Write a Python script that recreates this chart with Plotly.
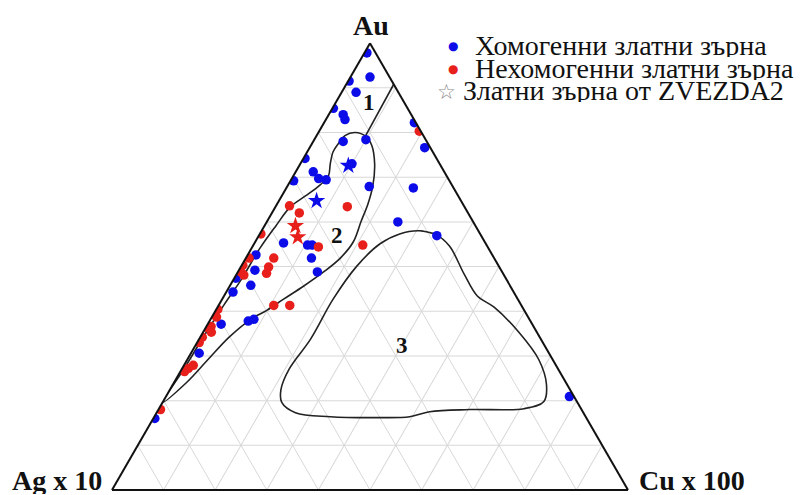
import plotly.graph_objects as go

# ---- compositions (Au, Cu in %; Ag is the remainder) ----
homo_au = [97.8, 92.4, 91.5, 89.0, 85.4, 84.0, 82.9, 82.2, 76.6, 78.0, 78.4, 74.2,
           73.0, 71.2, 69.7, 69.4, 69.2, 67.9, 67.6, 60.0, 56.9, 55.3, 54.8, 54.8,
           51.9, 48.8, 52.6, 49.2, 47.4, 45.8, 44.3, 37.8, 38.2, 37.1, 30.6, 16.0, 20.9]
homo_cu = [0.5, 3.8, 0.2, 2.8, 0.2, 2.8, 3.7, 17.5, 22.3, 5.8, 10.0, 0.3,
           10.0, 3.4, 5.2, 6.8, 0.6, 15.9, 24.6, 25.4, 34.5, 5.6, 10.5, 11.4,
           12.7, 15.4, 1.6, 3.1, 0.3, 4.0, 1.3, 7.5, 8.4, 2.6, 1.6, 0.3, 78.2]

hetero_au = [80.3, 63.6, 62.0, 63.4, 57.3, 54.4, 54.8, 51.9, 49.9, 48.5, 51.9, 50.3,
             48.8, 48.1, 41.3, 41.3, 40.4, 38.7, 36.6, 36.4, 35.3, 34.2, 33.0, 27.2,
             27.9, 26.5, 18.0]
hetero_cu = [19.4, 2.6, 5.3, 13.9, 0.2, 12.8, 21.2, 5.4, 5.4, 5.7, 0.6, 0.2,
             0.6, 1.5, 10.7, 13.8, 0.3, 0.9, 0.9, 0.1, 1.6, 0.4, 0.4, 1.2,
             1.8, 0.8, 0.4]

zvezda_homo_au = [72.6, 64.7]
zvezda_homo_cu = [9.5, 7.3]
zvezda_hetero_au = [59.1, 56.6]
zvezda_hetero_cu = [6.0, 7.7]

# ---- field boundaries ----
field1_au = [90.8, 79.1]
field1_cu = [9.2, 9.5]

field2_au = [19.6, 27.0, 34.8, 41.6, 47.2, 53.9, 59.1, 63.4, 65.8, 68.3, 70.3, 73.0,
             75.7, 77.5, 79.3, 80.0, 79.1, 77.1, 73.0, 68.1, 64.0, 60.2, 55.5, 51.9,
             48.8, 45.6, 42.7, 40.2, 38.2, 34.2, 28.8, 24.0, 19.6]
field2_cu = [0.0, 0.4, 0.6, 1.0, 1.5, 1.6, 2.2, 2.9, 4.6, 6.2, 6.8, 5.8,
             5.0, 5.1, 5.5, 7.1, 9.7, 11.8, 14.4, 16.5, 17.6, 18.2, 19.0, 18.3,
             16.6, 14.3, 11.9, 9.9, 7.8, 5.6, 3.9, 2.4, 0.0]

field3_au = [58.0, 57.1, 54.6, 48.3, 43.4, 40.9, 35.3, 29.2, 23.6, 19.8, 18.2, 18.0,
             17.5, 16.4, 16.2, 16.4, 17.3, 19.6, 22.5, 27.0, 33.7, 42.7, 50.1, 55.1,
             57.3, 58.0, 57.1]
field3_cu = [30.6, 34.3, 38.1, 44.1, 49.1, 53.6, 61.2, 68.1, 72.4, 73.8, 70.7, 60.3,
             52.8, 49.5, 43.8, 34.1, 26.9, 23.1, 21.5, 20.8, 21.6, 21.5, 22.4, 24.4,
             27.1, 30.6, 34.3]

legend_labels = ["Хомогенни златни зърна", "Нехомогенни златни зърна",
                 "Златни зърна от ZVEZDA2"]
vertex_labels = ["Au", "Ag x 10", "Cu x 100"]
field_labels = ["1", "2", "3"]


def rest(au, cu):
    return [round(100 - a - c, 2) for a, c in zip(au, cu)]


BLUE = "#0c0ce8"
RED = "#e8201c"
SERIF = "Liberation Serif"

W, H = 802, 495
fig = go.Figure()


def add_line(au, cu):
    fig.add_trace(go.Scatterternary(
        a=au, b=rest(au, cu), c=cu, mode="lines",
        line=dict(color="#222222", width=1.6, shape="spline", smoothing=1.0),
        hoverinfo="skip", showlegend=False))


add_line(field1_au, field1_cu)
add_line(field2_au, field2_cu)
add_line(field3_au, field3_cu)

fig.add_trace(go.Scatterternary(
    a=homo_au, b=rest(homo_au, homo_cu), c=homo_cu, mode="markers",
    marker=dict(color=BLUE, size=9.5, symbol="circle"),
    name=legend_labels[0], showlegend=False))
fig.add_trace(go.Scatterternary(
    a=hetero_au, b=rest(hetero_au, hetero_cu), c=hetero_cu, mode="markers",
    marker=dict(color=RED, size=9.5, symbol="circle"),
    name=legend_labels[1], showlegend=False))
fig.add_trace(go.Scatterternary(
    a=zvezda_homo_au, b=rest(zvezda_homo_au, zvezda_homo_cu), c=zvezda_homo_cu,
    mode="markers", marker=dict(color=BLUE, size=13, symbol="star"),
    showlegend=False))
fig.add_trace(go.Scatterternary(
    a=zvezda_hetero_au, b=rest(zvezda_hetero_au, zvezda_hetero_cu), c=zvezda_hetero_cu,
    mode="markers", marker=dict(color=RED, size=13, symbol="star"),
    showlegend=False))

# triangle placement: width 516 px, centred at x=370, base at y=490
tri_w = 516.0
tri_h = tri_w * 3 ** 0.5 / 2
cx = 370.0
cy = 490.0 - tri_h / 2
yc = 1 - cy / H
xc = cx / W

axis_style = dict(
    min=0, dtick=10, tick0=0, showticklabels=False, ticks="",
    showgrid=True, gridcolor="#d8d8d8", gridwidth=1,
    showline=True, linecolor="#111111", linewidth=2, title=dict(text=""),
)

fig.update_layout(
    width=W, height=H,
    margin=dict(l=0, r=0, t=0, b=0),
    paper_bgcolor="white",
    showlegend=False,
    ternary=dict(
        sum=100,
        bgcolor="white",
        domain=dict(x=[xc - 0.34, xc + 0.34],
                    y=[yc - tri_h / H / 2, yc + tri_h / H / 2]),
        aaxis=axis_style, baxis=axis_style, caxis=axis_style,
    ),
)


def px(x, y):
    return x / W, 1 - y / H


annotations = []


def note(text, x, y, size, anchor="center", color="#111111", family=SERIF,
         box_h=None, yanchor="middle"):
    xp, yp = px(x, y)
    ann = dict(
        text=text, x=xp, y=yp, xref="paper", yref="paper", showarrow=False,
        xanchor=anchor, yanchor=yanchor, borderpad=0,
        font=dict(family=family, size=size, color=color))
    if box_h is not None:
        ann["height"] = box_h
    annotations.append(ann)


# vertex labels
note("<b>%s</b>" % vertex_labels[0], 371, 25, 28, box_h=30)
note("<b>%s</b>" % vertex_labels[1], 103, 495, 28, anchor="right", box_h=28,
     yanchor="bottom")
note("<b>%s</b>" % vertex_labels[2], 638, 495, 28, anchor="left", box_h=28,
     yanchor="bottom")

# field numbers
note("<b>%s</b>" % field_labels[0], 369, 102, 23)
note("<b>%s</b>" % field_labels[1], 337, 236, 23)
note("<b>%s</b>" % field_labels[2], 402, 345, 23)

# legend
note("●", 453, 46, 12, color=BLUE, family="DejaVu Sans")
note("●", 453, 69, 12, color=RED, family="DejaVu Sans")
note("☆", 446, 92, 21, color="#8a8a8a", family="DejaVu Sans", box_h=22)
note(legend_labels[0], 474, 45, 28, anchor="left", box_h=23)
note(legend_labels[1], 474, 68, 28, anchor="left", box_h=23)
note(legend_labels[2], 462, 91, 28, anchor="left", box_h=23)

fig.update_layout(annotations=annotations)

fig.write_html("out.html")
